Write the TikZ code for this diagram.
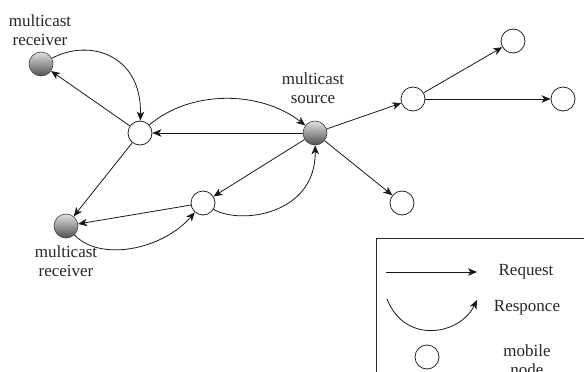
\documentclass[tikz,border=0pt]{standalone}
\usepackage{fontspec}
\setmainfont{Liberation Serif}
\usetikzlibrary{arrows.meta}

\tikzset{
  mobile/.style={circle, draw=black!85, line width=0.8pt, fill=white,
    minimum size=24pt, inner sep=0pt},
  member/.style={circle, draw=black!75, line width=0.6pt,
    top color=black!12, bottom color=black!68, middle color=black!40,
    minimum size=24pt, inner sep=0pt},
  link/.style={line width=0.8pt, draw=black!90,
    -{Stealth[length=9pt,width=7.5pt,inset=2.5pt]}},
  lbl/.style={font=\fontsize{17}{19}\selectfont, align=center, text=black!85,
    inner sep=0pt},
}

\begin{document}
\begin{tikzpicture}[x=1pt,y=-1pt]
  \useasboundingbox (0,0) rectangle (584,372);
  \clip (0,0) rectangle (584,372);

  % nodes
  \node[member] (r1) at (41,64) {};
  \node[mobile] (a)  at (140,133) {};
  \node[member] (s)  at (315,133) {};
  \node[mobile] (b)  at (203,203) {};
  \node[member] (r2) at (66,226) {};
  \node[mobile] (c)  at (413,99) {};
  \node[mobile] (d)  at (513,41) {};
  \node[mobile] (e)  at (563,99) {};
  \node[mobile] (f)  at (402,203) {};

  % labels
  \node[lbl] (lr1) at (40,30) {multicast\\receiver};
  \node[lbl] (ls)  at (313,88) {multicast\\source};
  \node[lbl] (lr2) at (66,261) {multicast\\receiver};

  % requests
  \draw[link] (a) -- (r1);
  \draw[link] (s) -- (a);
  \draw[link] (s) -- (b);
  \draw[link] (b) -- (r2);
  \draw[link] (a) -- (r2);
  \draw[link] (s) -- (c);
  \draw[link] (s) -- (f);
  \draw[link] (c) -- (d);
  \draw[link] (c) -- (e);

  % responses
  \draw[link] (r1) .. controls (90,38) and (142,55) .. (a);
  \draw[link] (a) .. controls (190,90) and (260,90) .. (s);
  \draw[link] (b) .. controls (240,225) and (316,215) .. (s);
  \draw[link] (r2) .. controls (100,262) and (162,250) .. (b);

  % legend
  \draw[line width=0.8pt, draw=black!85] (376,238) rectangle (620,420);
  \coordinate (q1) at (386,272);
  \coordinate (q2) at (477,272);
  \draw[link] (q1) -- (q2);
  \node[lbl] (tq) at (526,272) {Request};
  \coordinate (p1) at (387,299);
  \coordinate (p2) at (477,300);
  \draw[link] (p1) .. controls (405,345) and (460,335) .. (p2);
  \node[lbl] (tp) at (527,308) {Responce};
  \node[mobile] (m) at (427,357) {};
  \node[lbl] (tm) at (527,360) {mobile\\node};
\end{tikzpicture}
\end{document}
